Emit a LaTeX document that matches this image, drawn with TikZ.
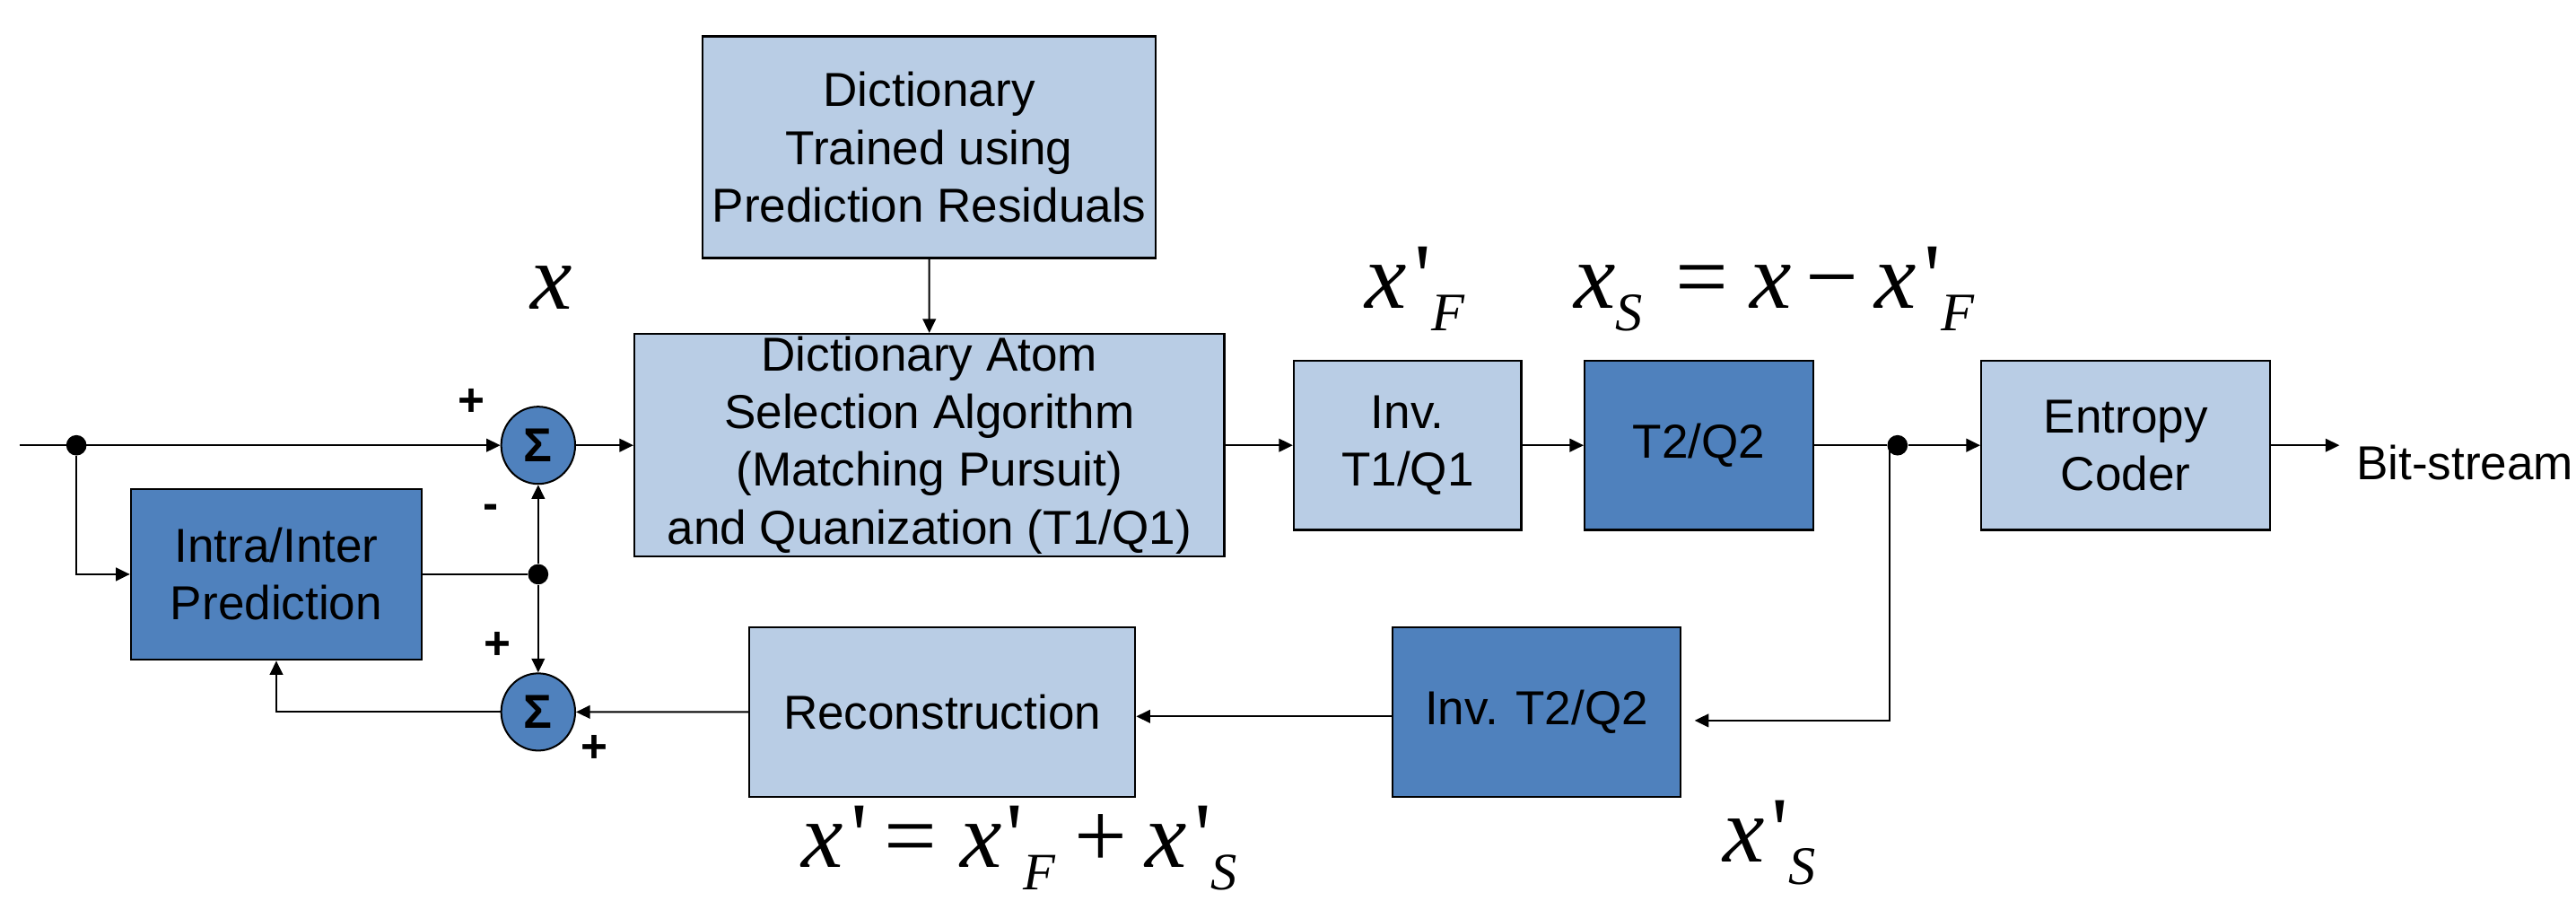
\documentclass[tikz,border=0pt]{standalone}
\usepackage{fontspec}
\setmainfont{Liberation Sans}
\newfontfamily\tms[Ligatures=TeXOff]{Liberation Serif}
\usetikzlibrary{arrows.meta,shapes.geometric}
\definecolor{lightblk}{HTML}{B9CDE5}
\definecolor{darkblk}{HTML}{4F81BD}

% pieces of the signal labels
\newcommand\vx{\textit{x}}
\newcommand\prm[1][4.5pt]{\kern#1\textup{'}}
\newcommand\subsc[1]{\raisebox{-14pt}{\fontsize{33}{33}\selectfont\itshape #1}}
\newcommand\subsl[1]{\raisebox{-13.5pt}{\fontsize{32}{32}\selectfont\itshape #1}}
\newcommand\eqfont{\tms\fontsize{57}{60}\selectfont}

\begin{document}
\begin{tikzpicture}[x=1pt,y=-1pt,
  font=\fontsize{29}{35}\selectfont,
  blk/.style={draw,line width=1.3pt,rectangle,align=center,inner sep=0pt},
  lite/.style={blk,fill=lightblk},
  dark/.style={blk,fill=darkblk},
  sum/.style={ellipse,draw,line width=1.1pt,fill=darkblk,minimum width=45pt,
    minimum height=47pt,inner sep=0pt,font=\bfseries\fontsize{29}{29}\selectfont},
  dot/.style={circle,fill=black,inner sep=0pt,minimum size=12.4pt},
  arr/.style={line width=1.1pt,-{Triangle[length=8.5pt,width=8pt]}},
  wire/.style={line width=1.1pt},
  sign/.style={font=\bfseries\fontsize{28}{28}\selectfont,inner sep=0pt,anchor=base},
  eq/.style={font=\eqfont,inner sep=0pt,anchor=base west}]
\useasboundingbox (0,0) rectangle (1568,548.3);

% processing blocks
\node[lite,minimum width=276pt,minimum height=135pt] (dict) at (565.6,89.6)
  {Dictionary\\Trained using\\Prediction Residuals};
\node[lite,minimum width=359pt,minimum height=135.5pt] (sel) at (565.7,271)
  {Dictionary Atom\\Selection Algorithm\\(Matching Pursuit)\\and Quanization (T1/Q1)};
\node[lite,minimum width=138.4pt,minimum height=103pt] (invone) at (856.8,271) {Inv.\\T1/Q1};
\node[dark,minimum width=139.2pt,minimum height=103pt] (tq) at (1034.2,271) {T2/Q2};
\node[lite,minimum width=175.8pt,minimum height=103pt] (ent) at (1293.9,271) {Entropy\\Coder};
\node[dark,minimum width=177pt,minimum height=104pt] (pred) at (168.2,349.5) {Intra/Inter\\Prediction};
\node[lite,minimum width=235pt,minimum height=103pt] (rec) at (573.5,433.4) {Reconstruction};
\node[dark,minimum width=175.4pt,minimum height=103pt] (invtwo) at (935.3,433.4) {Inv. T2/Q2};

% adders and branch points
\node[sum] (sumA) at (327.6,271) {Σ};
\node[sum] (sumB) at (327.6,433.3) {Σ};
\node[dot] (dotA) at (46.5,271) {};
\node[dot] (dotB) at (327.6,349.5) {};
\node[dot] (dotC) at (1155,271) {};
\coordinate (src) at (12,271);
\coordinate (out) at (1424,271);
\coordinate (tap) at (1150,271);
\coordinate (fbin) at (1031.5,438.5);
\node[anchor=base west,inner sep=0pt] (bits) at (1434,292) {Bit-stream};

% adder signs
\node[sign] (pA) at (287.2,253) {+};
\node[sign] (mA) at (299,316) {-};
\node[sign] (pB) at (303,401) {+};
\node[sign] (pC) at (362,464) {+};

% signal labels
\node[eq,anchor=base] (lx) at (335.5,188) {\vx};
\node[eq] (lxf) at (831,187.5) {\vx\prm\subsc{F}};
\node[eq] (lxs) at (958,187.5) {\vx\subsc{S}\kern20pt=\kern13pt\vx\kern8.7pt−\kern10pt\vx\prm\subsc{F}};
\node[eq] (lrec) at (488,528) {\vx\prm\kern10pt=\kern14pt\vx\prm[3pt]\subsl{F}\kern11.5pt+\kern11pt\vx\prm\subsl{S}};
\node[eq] (lxs2) at (1048.5,524.3) {\vx\prm\subsc{S}};

% forward path
\draw[arr] (src) -- (sumA);
\draw[arr] (dotA) |- (pred.west);
\draw[arr] (sumA) -- (sel);
\draw[arr] (dict) -- (sel);
\draw[arr] (sel) -- (invone);
\draw[arr] (invone) -- (tq);
\draw[wire] (tq) -- (dotC);
\draw[arr] (dotC) -- (ent);
\draw[arr] (ent) -- (out);

% reconstruction loop
\draw[arr] (tap) |- (fbin);
\draw[arr] ([yshift=-2.6pt]invtwo.west) -- ([yshift=-2.6pt]rec.east);
\draw[arr] (rec) -- (sumB);
\draw[wire] (pred) -- (dotB);
\draw[arr] (dotB) -- (sumA);
\draw[arr] (dotB) -- (sumB);
\draw[arr] (sumB) -| (pred);
\end{tikzpicture}
\end{document}
